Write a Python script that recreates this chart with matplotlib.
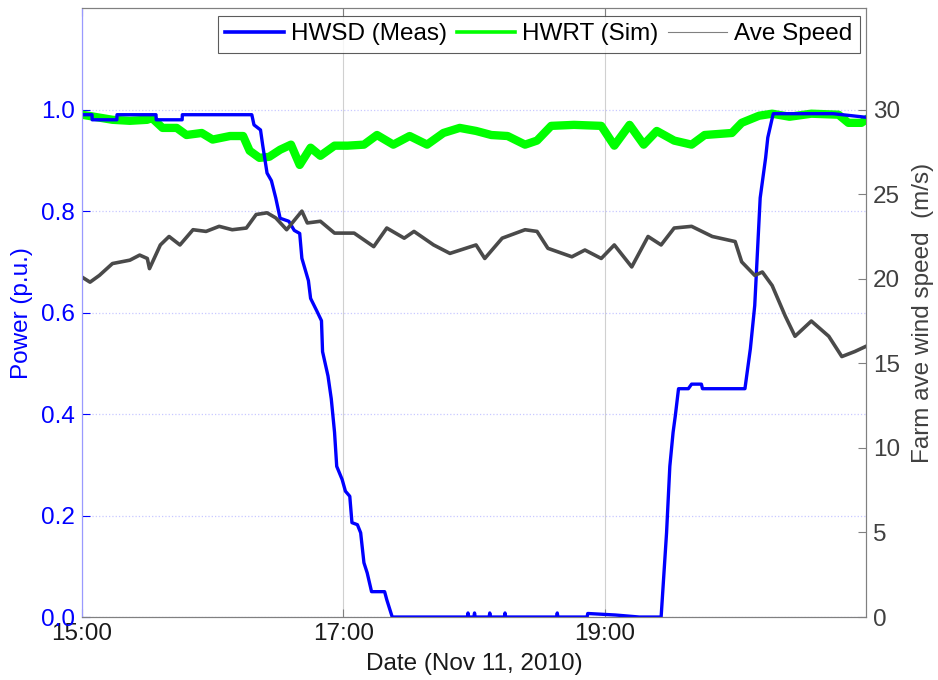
import matplotlib.pyplot as plt
from matplotlib.lines import Line2D

plt.rcParams['font.family'] = ['Liberation Sans', 'DejaVu Sans']

# minutes after 15:00
meas_t = [0, 4.6, 4.7, 16, 16.1, 34, 34.1, 46, 46.1, 78, 79, 82, 83, 85, 87, 89, 91, 95,
          97.5, 100, 101, 104, 105, 108, 110, 110.5, 113, 114.5, 116, 117, 119.5, 121, 123,
          124, 126.5, 128, 129.5, 131, 133, 139, 140, 142.5,
          177, 177.3, 177.6, 180, 180.3, 180.6, 187, 187.3, 187.6, 194, 194.3, 194.6,
          218, 218.3, 218.6, 232, 232.3, 245, 256, 266,
          268.5, 270, 271.5, 272.5, 274, 278.5, 280, 284.5, 285, 304.5, 307, 309, 311.5,
          314, 315, 317.5, 345, 360]
meas_p = [0.99, 0.99, 0.98, 0.98, 0.99, 0.99, 0.98, 0.98, 0.99, 0.99, 0.97, 0.96, 0.93, 0.875,
          0.86, 0.826, 0.786, 0.78, 0.762, 0.756, 0.707, 0.663, 0.628, 0.602, 0.584, 0.523,
          0.475, 0.43, 0.364, 0.297, 0.271, 0.248, 0.238, 0.186, 0.182, 0.166, 0.107, 0.087,
          0.05, 0.05, 0.034, 0.0,
          0.0, 0.008, 0.0, 0.0, 0.008, 0.0, 0.0, 0.008, 0.0, 0.0, 0.008, 0.0,
          0.0, 0.008, 0.0, 0.0, 0.007, 0.004, 0.0, 0.0,
          0.166, 0.297, 0.364, 0.396, 0.45, 0.45, 0.459, 0.459, 0.45, 0.45, 0.529, 0.614,
          0.826, 0.905, 0.945, 0.992, 0.992, 0.985]

sim_t = [0, 14, 22, 30, 32, 37, 43.5, 48, 55, 60, 68, 74, 77, 81.5, 86, 91, 96, 100, 105,
         109.5, 116, 122, 129.5, 135.5, 143, 150.5, 158.5, 166, 173.5, 181, 188, 195.5,
         203.5, 209, 215.5, 226, 238.5, 244.5, 251.5, 258, 264, 272, 280, 286, 298.5, 303,
         311, 317, 325, 335, 347.5, 352, 358, 360]
sim_p = [0.99, 0.98, 0.978, 0.98, 0.984, 0.964, 0.964, 0.95, 0.954, 0.941, 0.948, 0.948,
         0.919, 0.905, 0.907, 0.921, 0.931, 0.891, 0.925, 0.909, 0.929, 0.929, 0.931, 0.95,
         0.931, 0.948, 0.931, 0.954, 0.964, 0.958, 0.95, 0.948, 0.931, 0.939, 0.968, 0.97,
         0.968, 0.929, 0.97, 0.931, 0.958, 0.939, 0.931, 0.95, 0.954, 0.974, 0.988, 0.992,
         0.986, 0.992, 0.99, 0.974, 0.974, 0.98]

spd_t = [0, 3.7, 8, 14, 22, 26.5, 30, 31, 36, 40, 45, 51, 57, 63, 69, 75.5, 80, 85, 89, 94,
         101, 103.5, 109.5, 116, 125, 134, 140, 148, 152.5, 161.5, 169, 181, 185, 193,
         203.5, 209, 214, 225, 231, 238.5, 244.5, 252.5, 260, 266, 272, 280, 289.5, 300,
         303, 309, 312.5, 317, 323, 327.5, 335, 343, 349, 355, 360]
spd_v = [20.1, 19.8, 20.2, 20.9, 21.1, 21.4, 21.2, 20.6, 22.0, 22.5, 22.0, 22.9, 22.8, 23.1,
         22.9, 23.0, 23.8, 23.9, 23.6, 22.9, 24.0, 23.3, 23.4, 22.7, 22.7, 21.9, 23.0, 22.4,
         22.8, 22.0, 21.5, 22.0, 21.2, 22.4, 22.9, 22.8, 21.8, 21.3, 21.7, 21.2, 22.0, 20.7,
         22.5, 22.0, 23.0, 23.1, 22.5, 22.2, 21.0, 20.2, 20.4, 19.6, 17.8, 16.6, 17.5, 16.6,
         15.4, 15.7, 16.0]

xticks = [0, 120, 240]
xlabels = ['15:00', '17:00', '19:00']

fs = 17.5
fig, ax = plt.subplots(figsize=(9.38, 6.8), dpi=100)
fig.subplots_adjust(left=0.0874, right=0.923, bottom=0.0926, top=0.988)

ax.plot(meas_t, meas_p, color='#0000ff', lw=2.4, zorder=4)
ax.plot(sim_t, sim_p, color='#00ff00', lw=6, zorder=3)
ax.set_xlim(0, 360)
ax.set_ylim(0, 1.2)
ax.set_yticks([0, 0.2, 0.4, 0.6, 0.8, 1.0])
ax.set_yticklabels(['0.0', '0.2', '0.4', '0.6', '0.8', '1.0'])
ax.set_xticks(xticks)
ax.set_xticklabels(xlabels)
ax.tick_params(axis='y', colors='#0000ff', labelsize=fs, direction='in', length=6,
               right=True, pad=5)
ax.tick_params(axis='x', colors='#808080', labelcolor='#1a1a1a', labelsize=fs,
               direction='in', length=6, top=True, pad=4)
ax.yaxis.grid(True, color='#c8c8ff', ls=':', lw=0.9)
ax.xaxis.grid(True, color='#d0d0d0', ls='-', lw=0.8)
ax.set_axisbelow(True)
ax.set_ylabel('Power (p.u.)', color='#0000ff', fontsize=fs, labelpad=6)
ax.set_xlabel('Date (Nov 11, 2010)', fontsize=fs, color='#1a1a1a', labelpad=6)
ax.spines['left'].set_color('#9999ff')
for s in ['top', 'bottom', 'right']:
    ax.spines[s].set_color('#808080')

ax2 = ax.twinx()
ax2.plot(spd_t, spd_v, color='#4a4a4a', lw=2.6)
ax2.set_ylim(0, 36)
ax2.set_yticks([0, 5, 10, 15, 20, 25, 30])
ax2.tick_params(axis='y', colors='#808080', labelcolor='#404040', labelsize=fs,
                direction='in', length=6, pad=5)
ax2.set_ylabel('Farm ave wind speed  (m/s)', color='#404040', fontsize=fs, labelpad=9)
ax2.spines['left'].set_color('#9999ff')
for s in ['top', 'bottom', 'right']:
    ax2.spines[s].set_color('#808080')

handles = [Line2D([], [], color='#0000ff', lw=2.6),
           Line2D([], [], color='#00ff00', lw=2.6),
           Line2D([], [], color='#808080', lw=0.8)]
leg = ax2.legend(handles, ['HWSD (Meas)', 'HWRT (Sim)', 'Ave Speed'], loc='upper right',
                 ncol=3, fontsize=fs, frameon=True, fancybox=False, handlelength=2.4,
                 handletextpad=0.3, columnspacing=0.4, borderpad=0.3, borderaxespad=0,
                 bbox_to_anchor=(0.992, 0.987))
leg.get_frame().set_edgecolor('#333333')
leg.get_frame().set_linewidth(0.8)

fig.savefig('out.png', dpi=100)
